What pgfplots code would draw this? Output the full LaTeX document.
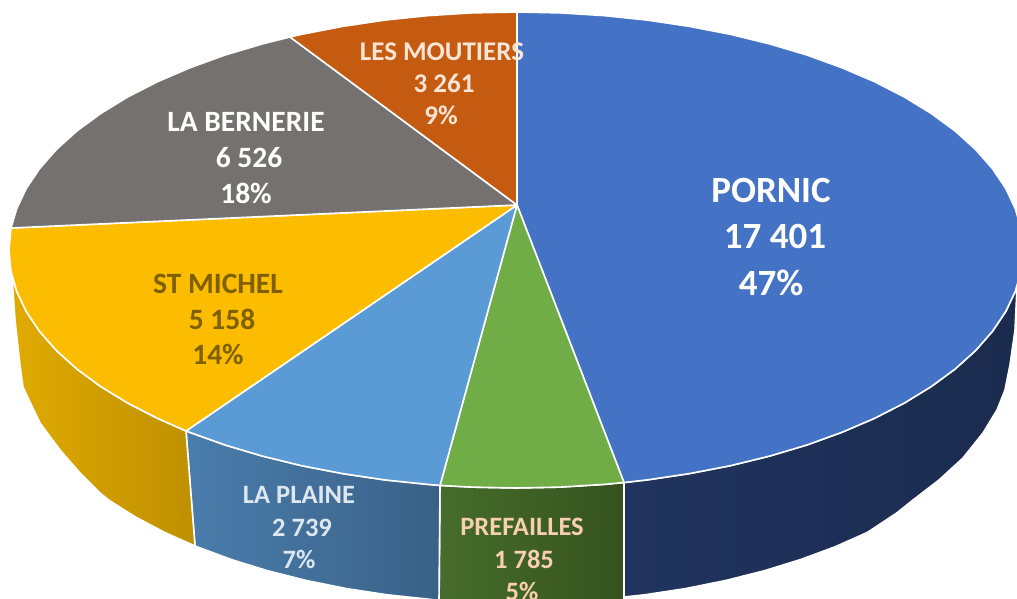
\documentclass[border=0pt]{standalone}
\usepackage{pgfplots}
\pgfplotsset{compat=1.18}
\usepackage{fontspec}
\setmainfont{Carlito}
\definecolor{cPornic}{HTML}{4472C4}
\definecolor{cPref}{HTML}{70AD47}
\definecolor{cPlaine}{HTML}{5B9BD5}
\definecolor{cMichel}{HTML}{FCBD00}
\definecolor{cBern}{HTML}{767171}
\definecolor{cMout}{HTML}{C55A11}
\definecolor{sPornicL}{HTML}{21345F}
\definecolor{sPornicR}{HTML}{1A2B4E}
\definecolor{sPrefL}{HTML}{466C2B}
\definecolor{sPrefR}{HTML}{36531F}
\definecolor{sPlaineL}{HTML}{4A7DAC}
\definecolor{sPlaineR}{HTML}{3A6187}
\definecolor{sMichelL}{HTML}{E0AA00}
\definecolor{sMichelR}{HTML}{BF9000}
\definecolor{tMichel}{HTML}{7F6000}
\definecolor{tPlaine}{HTML}{DEE7F0}
\definecolor{tPref}{HTML}{F8CFB0}
\definecolor{tMout}{HTML}{FBE5D6}
\newcommand{\lab}[5]{\node[anchor=base,text=#1,inner sep=0pt] at (axis cs:#2,#3) {\fontsize{#4}{#4}\selectfont\bfseries #5};}
\pgfplotsset{edge/.style={draw=white,line width=1.6pt,line join=round}}
\begin{document}
\begin{tikzpicture}
\begin{axis}[hide axis,scale only axis,width=1017pt,height=598pt,
  xmin=0,xmax=1017,ymin=0,ymax=598,y dir=reverse,clip=true]
% side walls
\addplot[edge,left color=sPornicL,right color=sPornicR] coordinates {
(624,482.5)(647.2,479.9)(689.4,473.6)(730.3,465.7)(769.5,456.1)(806.8,445)(841.9,432.3)(874.5,418.3)(904.4,403)(931.3,386.5)(955.1,369)(975.5,350.6)(992.4,331.4)(1005.7,311.6)(1015.3,291.3)(1017,287)
(1015,330)(1010,365)(1005,390)(997,410)(983,433)(963,458)(939,480)(913,500)(896.7,513)(867.4,532.4)(835.5,546.6)(801,559.4)(764.5,570.7)(726,580.4)(686,588.5)(644.6,594.8)(624,597)} --cycle;
\addplot[edge,left color=sPrefL,right color=sPrefR] coordinates {
(624,482.5)(604,484.4)(560.2,487.1)(516,488)(471.8,487.1)(440,485.4)
(439,612)(624,612)} --cycle;
\addplot[edge,left color=sPlaineL,right color=sPlaineR] coordinates {
(440,485.4)(428,484.4)(384.8,479.9)(342.6,473.6)(301.7,465.7)(262.5,456.1)(225.2,445)(186,431)
(195,546)(231,559.4)(267.5,570.7)(306,580.4)(346,588.5)(387.4,594.8)(429.7,599.3)(439,600.5)} --cycle;
\addplot[edge,left color=sMichelL,right color=sMichelR] coordinates {
(186,431)(157.5,418.3)(127.6,403)(100.7,386.5)(76.9,369)(56.5,350.6)(39.6,331.4)(26.3,311.6)(16.7,291.3)(12,277)
(15,320)(20,365)(23,387)(29,400)(40,423)(60,450)(80,473)(100,493)(108.9,500.2)(135.3,516.9)(164.6,532.4)(195,546)} --cycle;
% top face
\addplot[edge,fill=cPornic] coordinates {
(517,12)(560.2,12.9)(604,15.6)(647.2,20.1)(689.4,26.4)(730.3,34.3)(769.5,43.9)(806.8,55)(841.9,67.7)(874.5,81.7)(904.4,97)(931.3,113.5)(955.1,131)(975.5,149.4)(992.4,168.6)(1005.7,188.4)(1015.3,208.7)(1021.1,229.2)(1023,250)(1021.1,270.8)(1015.3,291.3)(1005.7,311.6)(992.4,331.4)(975.5,350.6)(955.1,369)(931.3,386.5)(904.4,403)(874.5,418.3)(841.9,432.3)(806.8,445)(769.5,456.1)(730.3,465.7)(689.4,473.6)(647.2,479.9)(624,482.5)(517,205)} --cycle;
\addplot[edge,fill=cPref] coordinates {
(624,482.5)(604,484.4)(560.2,487.1)(516,488)(471.8,487.1)(440,485.4)(517,205)} --cycle;
\addplot[edge,fill=cPlaine] coordinates {
(440,485.4)(428,484.4)(384.8,479.9)(342.6,473.6)(301.7,465.7)(262.5,456.1)(225.2,445)(186,431)(517,205)} --cycle;
\addplot[edge,fill=cMichel] coordinates {
(186,431)(157.5,418.3)(127.6,403)(100.7,386.5)(76.9,369)(56.5,350.6)(39.6,331.4)(26.3,311.6)(16.7,291.3)(10.9,270.8)(9,250)(11,228)(517,205)} --cycle;
\addplot[edge,fill=cBern] coordinates {
(11,228)(16.7,208.7)(26.3,188.4)(39.6,168.6)(56.5,149.4)(76.9,131)(100.7,113.5)(127.6,97)(157.5,81.7)(190.1,67.7)(225.2,55)(262.5,43.9)(290,37)(517,205)} --cycle;
\addplot[edge,fill=cMout] coordinates {
(290,37)(301.7,34.3)(342.6,26.4)(384.8,20.1)(428,15.6)(471.8,12.9)(517,12)(517,205)} --cycle;
% labels
\lab{white}{771}{202}{37}{PORNIC}
\lab{white}{775}{248}{37}{17 401}
\lab{white}{771}{295}{37}{47\%}
\lab{tMout}{442}{60}{27}{LES MOUTIERS}
\lab{tMout}{444}{92}{27}{3 261}
\lab{tMout}{441}{124}{27}{9\%}
\lab{white}{246}{131.5}{29.5}{LA BERNERIE}
\lab{white}{249}{167.5}{29.5}{6 526}
\lab{white}{246}{203.5}{29.5}{18\%}
\lab{tMichel}{218}{293.5}{29.5}{ST MICHEL}
\lab{tMichel}{222}{329}{29.5}{5 158}
\lab{tMichel}{218}{364.5}{29.5}{14\%}
\lab{tPlaine}{299}{503}{26.5}{LA PLAINE}
\lab{tPlaine}{302}{536}{26.5}{2 739}
\lab{tPlaine}{299}{568}{26.5}{7\%}
\lab{tPref}{522}{535}{26.5}{PREFAILLES}
\lab{tPref}{524}{568}{26.5}{1 785}
\lab{tPref}{522}{600}{26.5}{5\%}
\end{axis}
\pgfresetboundingbox
\useasboundingbox (0,0) rectangle (1017pt,598pt);
\end{tikzpicture}
\end{document}
